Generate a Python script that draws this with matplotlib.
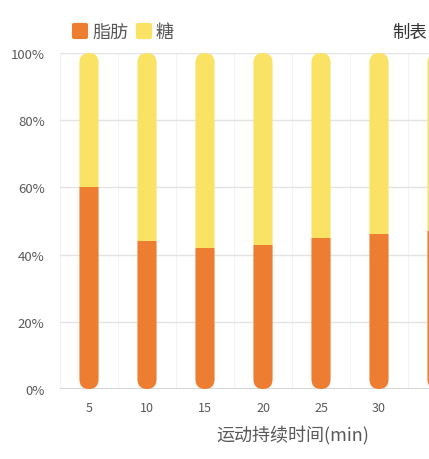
import matplotlib.pyplot as plt
from matplotlib.patches import FancyBboxPatch
from matplotlib.lines import Line2D
from matplotlib.markers import MarkerStyle
from matplotlib.ticker import PercentFormatter

plt.rcParams['font.family'] = ['Noto Sans CJK SC', 'DejaVu Sans']

# 数据
minutes = ['5', '10', '15', '20', '25', '30', '35']
fat = [0.60, 0.44, 0.42, 0.43, 0.45, 0.46, 0.47]
sugar = [1 - f for f in fat]

orange = '#ED7D31'
yellow = '#F9E264'
grey_txt = '#595959'

fig = plt.figure(figsize=(4.29, 4.6), dpi=100)
# 坐标轴右侧超出画面（原图被裁剪）
ax = fig.add_axes([60 / 429, 70 / 460, 406 / 429, 336 / 460])
ax.set_xlim(-0.5, len(minutes) - 0.5)
ax.set_ylim(0, 1)

for s in ax.spines.values():
    s.set_visible(False)
ax.axhline(0, color='#d0d0d0', lw=1.2, zorder=1)
ax.set_yticks([0, 0.2, 0.4, 0.6, 0.8, 1.0])
ax.yaxis.set_major_formatter(PercentFormatter(1.0, decimals=0))
ax.grid(axis='y', color='#e3e3e3', lw=1)
for i in range(len(minutes) + 1):
    ax.axvline(i - 0.5, color='#f3f3f3', lw=0.8, zorder=0)
ax.set_axisbelow(True)
ax.tick_params(axis='y', length=0, pad=11, labelsize=9.5, labelcolor=grey_txt)
ax.tick_params(axis='x', length=0, pad=9, labelsize=9, labelcolor=grey_txt)

x = list(range(len(minutes)))
w = 0.33
b1 = ax.bar(x, fat, w, color=orange, zorder=2)
b2 = ax.bar(x, sugar, w, bottom=fat, color=yellow, zorder=2)
ax.set_xticks(x)
ax.set_xticklabels(minutes)
# 最后一个刻度标签在原图中被裁掉
ax.get_xticklabels()[-1].set_visible(False)

# 圆角柱：用胶囊形状裁剪
fig.canvas.draw()
p0 = ax.transData.transform((0, 0))
p1 = ax.transData.transform((1, 1))
aspect = (p1[0] - p0[0]) / (p1[1] - p0[1])
for i in x:
    cap = FancyBboxPatch((i - w / 2, 0), w, 1,
                         boxstyle=f"round,pad=0,rounding_size={w / 2}",
                         mutation_aspect=aspect, transform=ax.transData,
                         facecolor='none', edgecolor='none')
    ax.add_patch(cap)
    b1[i].set_clip_path(cap)
    b2[i].set_clip_path(cap)

fig.text(293 / 429, 1 - 435 / 460, '运动持续时间(min)', ha='center', va='center',
         fontsize=13, color=grey_txt)

handles = [Line2D([], [], ls='none', marker=MarkerStyle('s', joinstyle='round'),
                  markersize=9, markerfacecolor=c, markeredgecolor=c,
                  markeredgewidth=3) for c in (orange, yellow)]
fig.legend(handles, ['脂肪', '糖'], loc='center left',
           bbox_to_anchor=(64 / 429, 1 - 33 / 460), ncol=2, frameon=False,
           fontsize=13, handlelength=0.8, handletextpad=0.25,
           columnspacing=0.5, labelcolor=grey_txt, borderpad=0)

fig.text(427 / 429, 1 - 33 / 460, '制表', ha='right', va='center',
         fontsize=12.5, color='#333333')

fig.savefig('out.png', dpi=100)
